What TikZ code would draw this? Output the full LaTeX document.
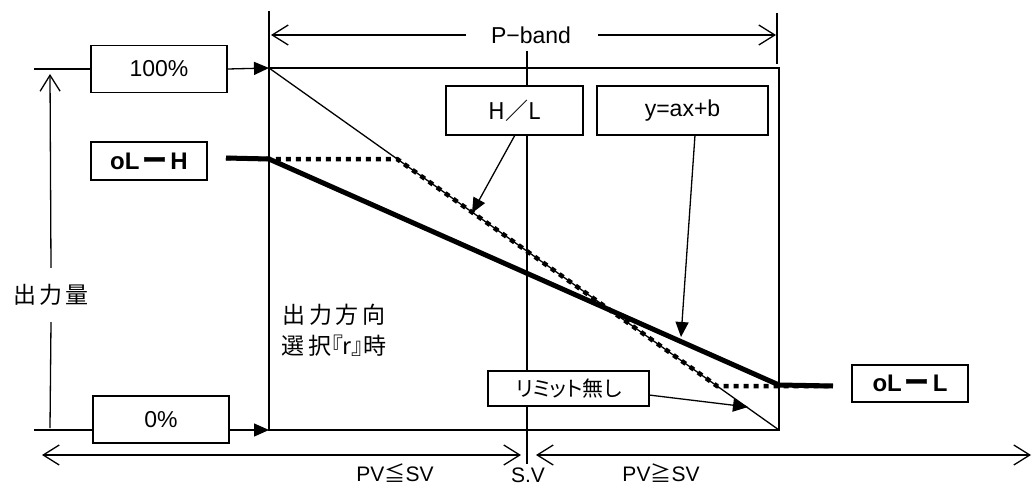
\documentclass[tikz,border=0pt]{standalone}
\usepackage{fontspec}
\setmainfont{Liberation Sans}
\newfontfamily\jp{Noto Sans CJK JP}
\newfontfamily\jpls{Noto Sans CJK JP}[LetterSpace=15]
\newfontfamily\jpp{Noto Sans CJK JP}[RawFeature=+palt]
\usetikzlibrary{arrows.meta}
\newcommand\fsA{\fontsize{23}{27}\selectfont}
\newcommand\fsB{\fontsize{21}{24}\selectfont}
\newcommand\oldash{{\jp\bfseries\fontsize{25}{27}\selectfont ー}}
\begin{document}
\begin{tikzpicture}[x=1pt,y=-1pt,
  thinl/.style={line width=1.3pt},
  framel/.style={line width=1.6pt},
  thickl/.style={line width=5pt},
  dotl/.style={line width=4.5pt,dash pattern=on 5pt off 5pt},
  lbox/.style={draw,line width=1.6pt,fill=white,inner sep=0pt,font=\fsA},
  olbox/.style={lbox,line width=2pt,minimum width=116pt,font=\fontsize{24}{27}\selectfont\bfseries},
  barb/.tip={Straight Barb[length=16pt,width=20pt]},
  tri/.tip={Triangle[length=15pt,width=13pt]}]
\useasboundingbox (0,0) rectangle (1033,487);
% frame coordinates
\coordinate (TL) at (269,68);
\coordinate (TR) at (779,68);
\coordinate (BL) at (269,430);
\coordinate (BR) at (779,430);
\coordinate (Ltop) at (269,11);
\coordinate (rt1) at (777,13);
\coordinate (rt2) at (777,64);
\coordinate (svT) at (527,51);
\coordinate (svB) at (527,464);
% frame
\draw[framel] (TL) rectangle (BR);
\draw[thinl] (Ltop) -- (TL);
\draw[thinl] (rt1) -- (rt2);
\draw[thinl] (svT) -- (svB);
\draw[thinl] (TL) -- (BR);
% P-band
\node[font=\fsA] (pb) at (531,35) {P−band};
\coordinate (pbL1) at (466,35);
\coordinate (pbL2) at (271,35);
\coordinate (pbR1) at (598,35);
\coordinate (pbR2) at (776,35);
\draw[thinl,-barb] (pbL1) -- (pbL2);
\draw[thinl,-barb] (pbR1) -- (pbR2);
% curves
\coordinate (k1) at (226,158);
\coordinate (k2) at (269,159);
\coordinate (k3) at (779,385);
\coordinate (k4) at (833,386);
\coordinate (d1) at (397,159);
\coordinate (d2) at (717,386);
\coordinate (d3) at (779,386);
\draw[thickl] (k1) -- (k2) -- (k3) -- (k4);
\draw[dotl] (k1) -- (k2) -- (d1) -- (d2) -- (d3) -- (k4);
% y axis
\coordinate (ytop) at (50,74);
\coordinate (ybot) at (50,428);
\node[inner sep=0pt,minimum height=54pt] (ylab) at (51,295) {\jpls\fsA 出力量};
\draw[thinl,-barb] (ylab.north) -- (ytop);
\draw[thinl] (ybot) -- (ylab.south);
% 100% and 0%
\node[lbox,minimum width=136pt,minimum height=47pt] (p100) at (159,69) {100\%};
\coordinate (h100) at (34,69);
\draw[thinl] (h100) -- (p100.west);
\draw[thinl,-tri] (p100.east) -- (TL);
\node[lbox,minimum width=136pt,minimum height=47pt] (p0) at (161,419.5) {0\%};
\coordinate (h0) at (34,430);
\draw[thinl] (h0) -- (h0 -| p0.west);
\draw[thinl,-tri] (p0.east |- BL) -- (BL);
% oL-H, oL-L
\node[olbox,minimum height=38pt] (olh) at (149,161) {oL\kern3pt\oldash\kern3pt H};
\node[olbox,minimum height=37pt] (oll) at (910,383.5) {oL\kern3pt\oldash\kern3pt L};
% label boxes
\node[lbox,minimum width=137pt,minimum height=49pt] (hl) at (514.5,110.5) {\jp H／L};
\node[lbox,minimum width=171pt,minimum height=49pt] (yax) at (682.5,110.5) {y=ax+b};
\node[lbox,minimum width=161pt,minimum height=35pt,font=\fsB] (lim) at (568.5,388.5) {\jpp リミット無し};
\coordinate (hlS) at (515,135);
\coordinate (hlT) at (472,213);
\draw[thinl,-tri] (hlS) -- (hlT);
\coordinate (yaS) at (695,135);
\coordinate (yaT) at (681,337);
\draw[thinl,-tri] (yaS) -- (yaT);
\coordinate (liS) at (649,395);
\coordinate (liT) at (748,407);
\draw[thinl,-tri] (liS) -- (liT);
% direction text
\node[align=center,font=\fontsize{23}{31}\selectfont,inner sep=0pt] (dir) at (334,330) {\jpls 出力方向\\\jpls 選択\jpp『r』\jp 時};
% bottom arrows
\coordinate (bl1) at (42,455);
\coordinate (bl2) at (521,455);
\coordinate (br1) at (536,455);
\coordinate (br2) at (1031,455);
\draw[thinl,barb-barb] (bl1) -- (bl2);
\draw[thinl,barb-barb] (br1) -- (br2);
\node[font=\fsB] (pvl) at (395,473) {PV{\jp ≦}SV};
\node[font=\fsB,inner sep=0pt] (sv) at (528,475) {S.V};
\node[font=\fsB] (pvg) at (661,473) {PV{\jp ≧}SV};
\end{tikzpicture}
\end{document}
